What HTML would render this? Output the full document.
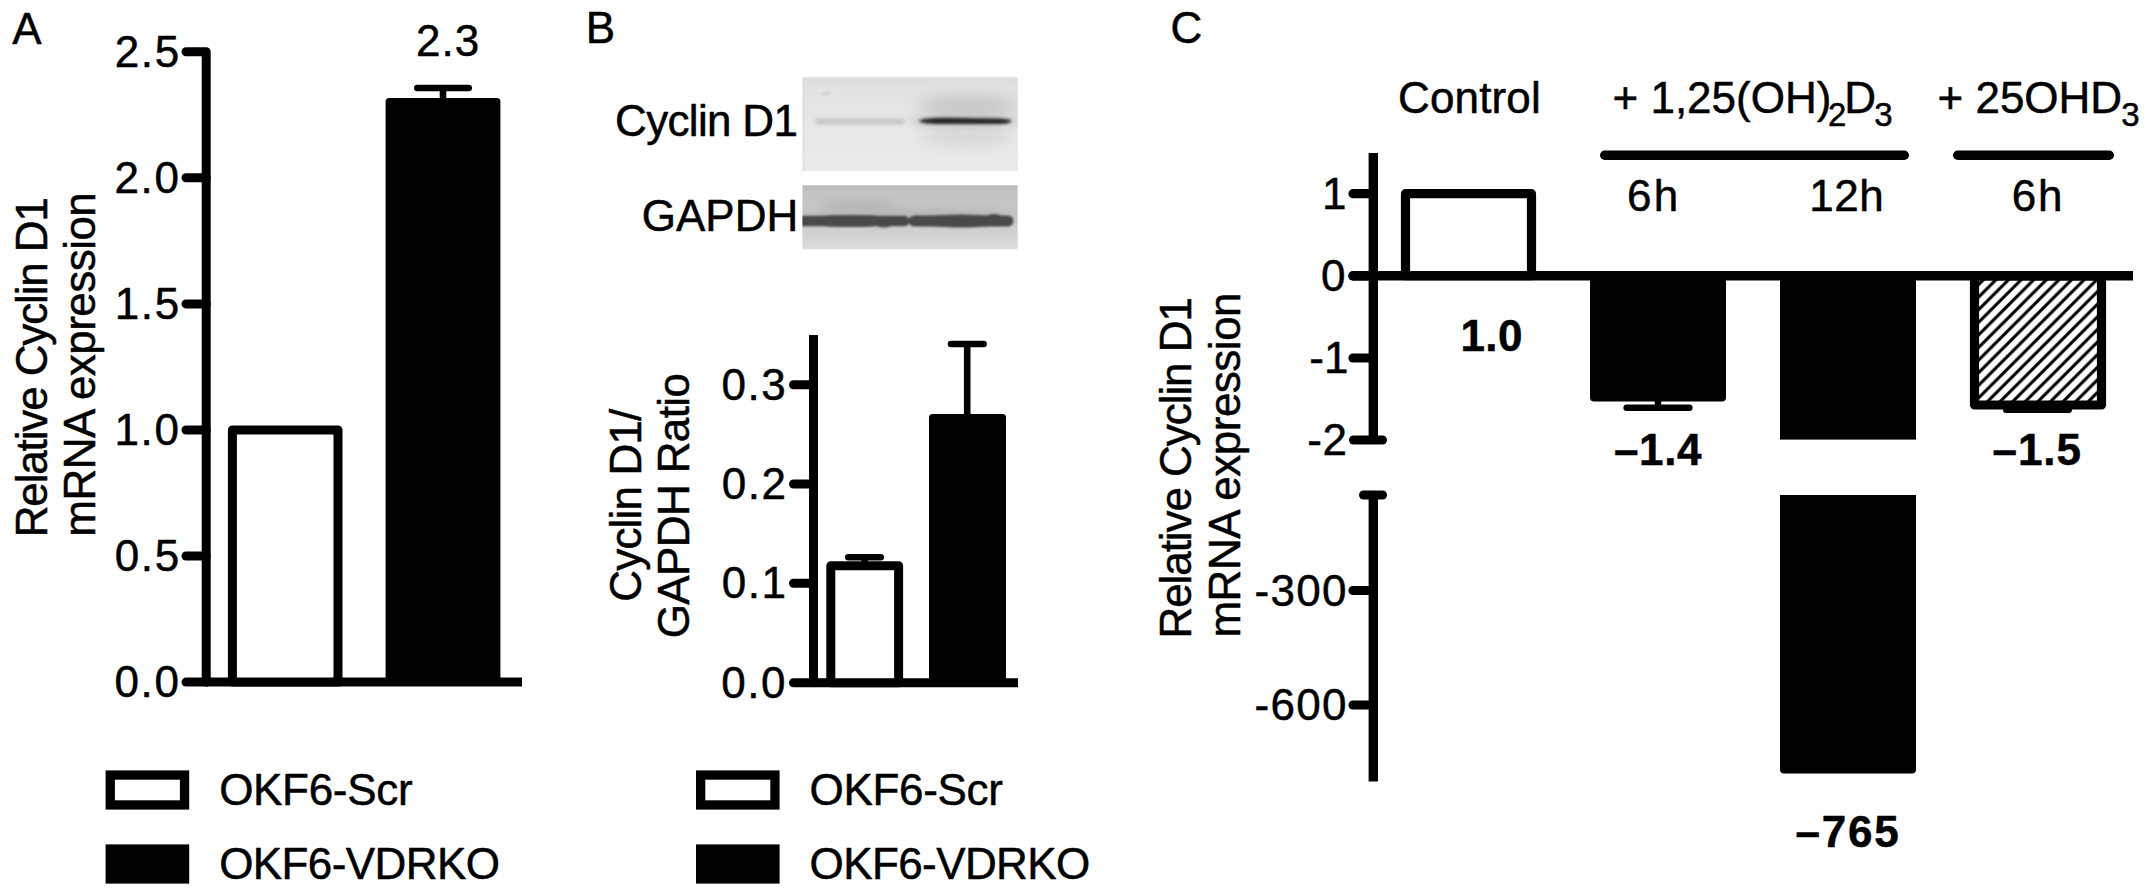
<!DOCTYPE html>
<html lang="en">
<head>
<meta charset="utf-8">
<title>Cyclin D1 expression figure</title>
<style>
html,body{margin:0;padding:0;background:#fff;}
body{width:2150px;height:896px;overflow:hidden;}
svg{display:block;}
svg text{font-family:"Liberation Sans",sans-serif;font-size:44px;fill:#000;stroke:#000;stroke-width:0.5px;stroke-linejoin:round;}
</style>
</head>
<body>
<svg width="2150" height="896" viewBox="0 0 2150 896">
<defs>
<filter id="blur1" x="-20%" y="-200%" width="140%" height="500%"><feGaussianBlur stdDeviation="1"/></filter>
<filter id="blur15" x="-10%" y="-100%" width="120%" height="300%"><feGaussianBlur stdDeviation="1.4"/></filter>
<filter id="blur2" x="-10%" y="-200%" width="120%" height="500%"><feGaussianBlur stdDeviation="2"/></filter>
<filter id="blur4" x="-30%" y="-200%" width="160%" height="500%"><feGaussianBlur stdDeviation="4"/></filter>
<filter id="blur7" x="-50%" y="-150%" width="200%" height="400%"><feGaussianBlur stdDeviation="7"/></filter>
<filter id="blur12" x="-10%" y="-100%" width="120%" height="300%"><feGaussianBlur stdDeviation="1.1"/></filter>
<clipPath id="clip1"><rect x="802.4" y="77.3" width="215.3" height="93.8"/></clipPath>
<clipPath id="clip2"><rect x="802.4" y="185.3" width="215.3" height="63.9"/></clipPath>
<linearGradient id="blot1lr" x1="0" y1="0" x2="1" y2="0">
<stop offset="0" stop-color="#d0d0d0" stop-opacity="0.7"/><stop offset="0.03" stop-color="#d8d8d8" stop-opacity="0"/><stop offset="0.97" stop-color="#d8d8d8" stop-opacity="0"/><stop offset="1" stop-color="#d0d0d0" stop-opacity="0.5"/>
</linearGradient>
<filter id="soft" x="-2%" y="-5%" width="104%" height="110%"><feGaussianBlur stdDeviation="0.6"/></filter>
<linearGradient id="blot1bg" x1="0" y1="0" x2="0" y2="1">
<stop offset="0" stop-color="#dcdcdc"/><stop offset="0.12" stop-color="#e2e2e2"/><stop offset="0.5" stop-color="#e7e7e7"/><stop offset="1" stop-color="#ebebeb"/>
</linearGradient>
<linearGradient id="blot2bg" x1="0" y1="0" x2="0" y2="1">
<stop offset="0" stop-color="#b6b6b6"/><stop offset="0.12" stop-color="#c4c4c4"/><stop offset="0.4" stop-color="#c8c8c8"/><stop offset="0.7" stop-color="#d0d0d0"/><stop offset="1" stop-color="#dedede"/>
</linearGradient>
<pattern id="hatch" patternUnits="userSpaceOnUse" width="12.6" height="12.6" x="1976.0" y="280.8">
<rect width="12.6" height="12.6" fill="#fff"/>
<path d="M-6.3 12.6 L12.6 -6.3 M0 18.9 L18.9 0" stroke="#000" stroke-width="3.1" fill="none"/>
</pattern>
</defs>
<rect width="2150" height="896" fill="#fff"/>
<g id="panelA">
<text x="12.15" y="43.6">A</text>
<path d="M186 51.7 H206.2 V682.1" stroke="#000" stroke-width="9" fill="none" stroke-linecap="round" stroke-linejoin="round"/>
<text x="114.65" y="66.7" letter-spacing="1.7">2.5</text>
<path d="M186 177.8 H206.2" stroke="#000" stroke-width="9" stroke-linecap="round" fill="none"/>
<text x="114.45" y="192.8" letter-spacing="1.7">2.0</text>
<path d="M186 303.9 H206.2" stroke="#000" stroke-width="9" stroke-linecap="round" fill="none"/>
<text x="114.65" y="318.9" letter-spacing="1.7">1.5</text>
<path d="M186 430.0 H206.2" stroke="#000" stroke-width="9" stroke-linecap="round" fill="none"/>
<text x="114.45" y="445.0" letter-spacing="1.7">1.0</text>
<path d="M186 556.0 H206.2" stroke="#000" stroke-width="9" stroke-linecap="round" fill="none"/>
<text x="114.65" y="571.0" letter-spacing="1.7">0.5</text>
<path d="M186 682.1 H206.2" stroke="#000" stroke-width="9" stroke-linecap="round" fill="none"/>
<text x="114.45" y="697.1" letter-spacing="1.7">0.0</text>
<path d="M206.2 682.1 H522" stroke="#000" stroke-width="9" fill="none"/>
<rect x="232.4" y="430" width="105.6" height="252" fill="#fff" stroke="#000" stroke-width="9" stroke-linejoin="round"/>
<rect x="385.6" y="98" width="114.8" height="584" rx="3.5" fill="#000"/>
<path d="M443 98 V88 M417.3 88 H468.7" stroke="#000" stroke-width="6.6" stroke-linecap="round" fill="none"/>
<text x="416.05" y="56.0" letter-spacing="1.05">2.3</text>
<text transform="translate(46.6 537.35) rotate(-90)" letter-spacing="-1.13">Relative Cyclin D1</text>
<text transform="translate(94.9 536.65) rotate(-90)" letter-spacing="-0.55">mRNA expression</text>
<rect x="110.25" y="775.05" width="74.3" height="29.900000000000002" fill="#fff" stroke="#000" stroke-width="9.3"/>
<rect x="105.6" y="844.4" width="83.6" height="39.2" fill="#000"/>
<text x="219.15" y="804.8" letter-spacing="-0.31">OKF6-Scr</text>
<text x="219.15" y="878.8" letter-spacing="-0.59">OKF6-VDRKO</text>
</g>
<g id="panelB">
<text x="585.65" y="43.2">B</text>
<text x="615.05" y="135.8" letter-spacing="-0.68">Cyclin D1</text>
<text x="641.65" y="230.8" letter-spacing="0.05">GAPDH</text>
<g clip-path="url(#clip1)"><g filter="url(#soft)">
<rect x="800" y="75" width="221" height="99" fill="url(#blot1bg)"/>
<rect x="800" y="75" width="221" height="99" fill="url(#blot1lr)"/>
<ellipse cx="968" cy="106" rx="50" ry="11" fill="#bdbdbd" filter="url(#blur7)" opacity="0.75"/>
<ellipse cx="966" cy="137" rx="46" ry="10" fill="#cccccc" filter="url(#blur7)" opacity="0.6"/>
<ellipse cx="965" cy="121" rx="56" ry="5" fill="#b0b0b0" filter="url(#blur4)" opacity="0.7"/>
<rect x="815" y="119.2" width="90" height="4.4" rx="2.2" fill="#bcbcbc" filter="url(#blur2)"/>
<path d="M918.5 121 Q924 117.6 945 117.8 L1000 118.6 Q1011 119.2 1011.5 121 Q1010 123.6 1000 124 L940 124 Q922 124 918.5 121 Z" fill="#262626" filter="url(#blur15)"/>
<ellipse cx="826" cy="93.5" rx="5" ry="1.6" fill="#cfcfcf" filter="url(#blur1)"/>
</g></g>
<g clip-path="url(#clip2)"><g filter="url(#soft)">
<rect x="800" y="183" width="221" height="69" fill="url(#blot2bg)"/>
<ellipse cx="858" cy="204" rx="38" ry="5" fill="#a8a8a8" filter="url(#blur4)" opacity="0.55"/>
<ellipse cx="910" cy="214" rx="110" ry="5" fill="#a0a0a0" filter="url(#blur4)" opacity="0.5"/>
<g filter="url(#blur12)" fill="#484848">
<rect x="796" y="215.8" width="113.5" height="10.4" rx="5.2"/>
<ellipse cx="850" cy="221" rx="48" ry="6.1"/>
<rect x="908.5" y="215.4" width="105" height="11.2" rx="5.6"/>
<ellipse cx="961" cy="221" rx="44" ry="6.6"/>
<ellipse cx="884" cy="224.4" rx="8" ry="3"/>
<ellipse cx="994" cy="217" rx="8" ry="3"/>
</g>
</g></g>
<path d="M813.5 335 V682.8" stroke="#000" stroke-width="9" fill="none"/>
<path d="M793.5 384.7 H813.5" stroke="#000" stroke-width="9" stroke-linecap="round" fill="none"/>
<text x="721.55" y="399.7" letter-spacing="1.5">0.3</text>
<path d="M793.5 484.0 H813.5" stroke="#000" stroke-width="9" stroke-linecap="round" fill="none"/>
<text x="721.75" y="499.0" letter-spacing="1.5">0.2</text>
<path d="M793.5 583.3 H813.5" stroke="#000" stroke-width="9" stroke-linecap="round" fill="none"/>
<text x="721.75" y="598.3" letter-spacing="1.5">0.1</text>
<path d="M793.5 682.8 H813.5" stroke="#000" stroke-width="9" stroke-linecap="round" fill="none"/>
<text x="721.25" y="697.8" letter-spacing="1.5">0.0</text>
<path d="M813.5 682.8 H1018" stroke="#000" stroke-width="9" fill="none"/>
<rect x="830.8" y="565.8" width="67.8" height="117" fill="#fff" stroke="#000" stroke-width="9" stroke-linejoin="round"/>
<path d="M864.7 563 V557.2 M848.2 557.2 H880.8" stroke="#000" stroke-width="6.4" stroke-linecap="round" fill="none"/>
<rect x="929" y="414" width="77" height="269" rx="3.5" fill="#000"/>
<path d="M967.2 414 V344 M951 344 H983.6" stroke="#000" stroke-width="6.6" stroke-linecap="round" fill="none"/>
<text transform="translate(641 601.65) rotate(-90)" letter-spacing="-0.84">Cyclin D1/</text>
<text transform="translate(689 638.25) rotate(-90)" letter-spacing="-0.63">GAPDH Ratio</text>
<rect x="700.65" y="775.05" width="74.3" height="29.900000000000002" fill="#fff" stroke="#000" stroke-width="9.3"/>
<rect x="696.0" y="844.4" width="83.6" height="39.2" fill="#000"/>
<text x="809.55" y="804.8" letter-spacing="-0.31">OKF6-Scr</text>
<text x="809.55" y="878.8" letter-spacing="-0.59">OKF6-VDRKO</text>
</g>
<g id="panelC">
<text x="1170.45" y="43.4">C</text>
<text x="1398.05" y="112.8" letter-spacing="0.13">Control</text>
<text y="112.8"><tspan x="1612.5">+ 1,25(OH)</tspan><tspan x="1828" dy="13" font-size="33">2</tspan><tspan x="1844.3" dy="-13">D</tspan><tspan x="1874.3" dy="13.4" font-size="33">3</tspan></text>
<text y="112.8"><tspan x="1937.5">+ 25OHD</tspan><tspan x="2121.2" dy="13.4" font-size="33">3</tspan></text>
<path d="M1604.7 155.3 H1904.3" stroke="#000" stroke-width="9.4" stroke-linecap="round" fill="none"/>
<path d="M1957.7 155.3 H2109.3" stroke="#000" stroke-width="9.4" stroke-linecap="round" fill="none"/>
<text x="1627.05" y="211.4" letter-spacing="2.2">6h</text>
<text x="1809.25" y="211.4" letter-spacing="0.5">12h</text>
<text x="2011.65" y="211.4" letter-spacing="2.0">6h</text>
<path d="M1373.3 153 V440" stroke="#000" stroke-width="9.4" fill="none"/>
<path d="M1373.3 495 V781.6" stroke="#000" stroke-width="9.4" fill="none"/>
<path d="M1353.5 440 H1382.5" stroke="#000" stroke-width="9" stroke-linecap="round" fill="none"/>
<path d="M1363.5 495 H1382.5" stroke="#000" stroke-width="9" stroke-linecap="round" fill="none"/>
<path d="M1353 193.7 H1373.3" stroke="#000" stroke-width="9.2" stroke-linecap="round" fill="none"/>
<text x="1322.05" y="208.9">1</text>
<path d="M1353 275.8 H1373.3" stroke="#000" stroke-width="9.2" stroke-linecap="round" fill="none"/>
<text x="1320.95" y="291.0">0</text>
<path d="M1353 358.0 H1373.3" stroke="#000" stroke-width="9.2" stroke-linecap="round" fill="none"/>
<text x="1309.35" y="373.2">-1</text>
<path d="M1353 590.5 H1373.3" stroke="#000" stroke-width="9.2" stroke-linecap="round" fill="none"/>
<text x="1254.45" y="605.7" letter-spacing="1.3">-300</text>
<path d="M1353 705.0 H1373.3" stroke="#000" stroke-width="9.2" stroke-linecap="round" fill="none"/>
<text x="1254.45" y="720.2" letter-spacing="1.3">-600</text>
<text x="1307.25" y="455.2" letter-spacing="0.5">-2</text>
<rect x="1405.5" y="193.7" width="126" height="82" fill="#fff" stroke="#000" stroke-width="9.2" stroke-linejoin="round"/>
<path d="M1590 275.8 H1726 V397.6 a4 4 0 0 1 -4 4 H1594 a4 4 0 0 1 -4 -4 Z" fill="#000"/>
<path d="M1658 401 V407.8 M1626.6 407.8 H1689.4" stroke="#000" stroke-width="6.4" stroke-linecap="round" fill="none"/>
<rect x="1780" y="275.8" width="136" height="163.8" fill="#000"/>
<path d="M1780 495 H1916 V769.6 a4 4 0 0 1 -4 4 H1784 a4 4 0 0 1 -4 -4 Z" fill="#000"/>
<path d="M2006.2 409.8 H2068.8" stroke="#000" stroke-width="6.4" stroke-linecap="round" fill="none"/>
<rect x="1974.5" y="275.8" width="127" height="129.2" fill="url(#hatch)" stroke="#000" stroke-width="9.2" stroke-linejoin="round"/>
<path d="M1353 275.8 H2133" stroke="#000" stroke-width="9.6" fill="none"/>
<circle cx="1353" cy="275.8" r="4.8" fill="#000"/>
<text x="1460.45" y="350.8" font-weight="bold" letter-spacing="0.45">1.0</text>
<text x="1613.95" y="465.2" font-weight="bold" letter-spacing="0.67">–1.4</text>
<text x="1992.55" y="465.2" font-weight="bold" letter-spacing="0.93">–1.5</text>
<text x="1795.55" y="847.4" font-weight="bold" letter-spacing="1.73">–765</text>
<text transform="translate(1191.4 638.55) rotate(-90)" letter-spacing="-1.06">Relative Cyclin D1</text>
<text transform="translate(1239.6 637.55) rotate(-90)" letter-spacing="-0.5">mRNA expression</text>
</g>
</svg>
</body>
</html>
